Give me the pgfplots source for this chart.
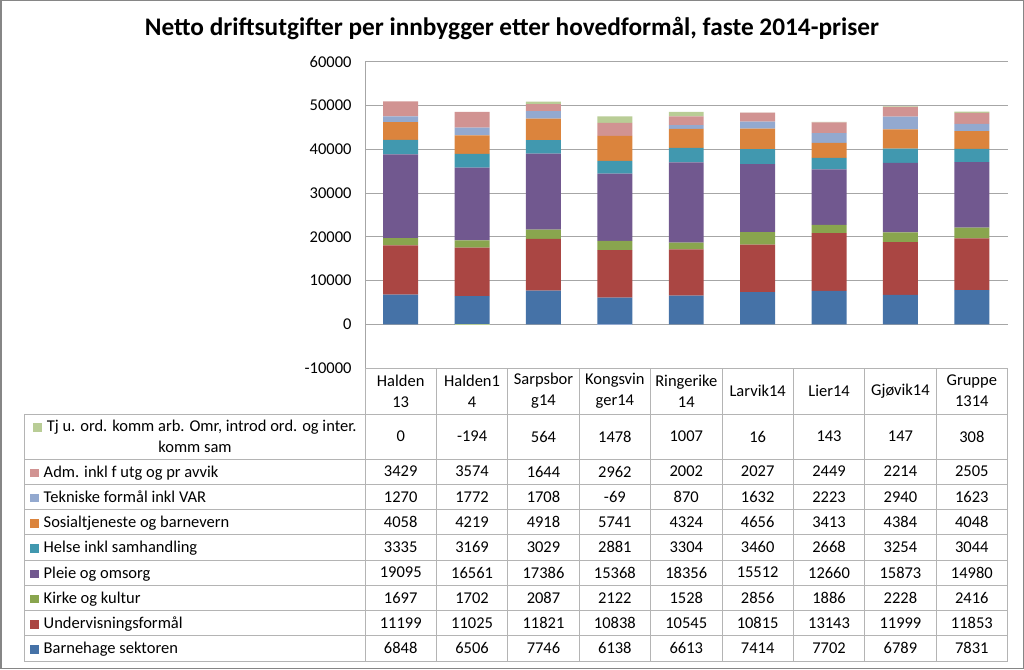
\documentclass[border=0pt]{standalone}
\usepackage{pgfplots}
\pgfplotsset{compat=1.18}
\usepackage{pgfplotstable}
\usepackage{fontspec}
\setmainfont{Carlito}

\definecolor{cBH}{HTML}{4572A7}
\definecolor{cUV}{HTML}{AA4643}
\definecolor{cKK}{HTML}{89A54E}
\definecolor{cPO}{HTML}{71588F}
\definecolor{cHE}{HTML}{4198AF}
\definecolor{cSO}{HTML}{DB843D}
\definecolor{cTE}{HTML}{93A9CF}
\definecolor{cAD}{HTML}{D19392}
\definecolor{cTJ}{HTML}{B9CD96}
\definecolor{gridc}{HTML}{A6A6A6}
\definecolor{tablec}{HTML}{B4B4B4}
\definecolor{framec}{HTML}{868686}

\newcommand{\keybox}[1]{\textcolor{#1}{\rule{8.5pt}{8.5pt}}}
\newcommand{\tabfont}{\fontsize{16.5}{21}\selectfont}

\pgfplotstableread{
x bh uv kk po he so te ad tj
0 6848 11199 1697 19095 3335 4058 1270 3429 0
1 6506 11025 1702 16561 3169 4219 1772 3574 -194
2 7746 11821 2087 17386 3029 4918 1708 1644 564
3 6138 10838 2122 15368 2881 5741 -69 2962 1478
4 6613 10545 1528 18356 3304 4324 870 2002 1007
5 7414 10815 2856 15512 3460 4656 1632 2027 16
6 7702 13143 1886 12660 2668 3413 2223 2449 143
7 6789 11999 2228 15873 3254 4384 2940 2214 147
8 7831 11853 2416 14980 3044 4048 1623 2505 308
}\data

\begin{document}
\begin{tikzpicture}[x=1pt,y=1pt]
\useasboundingbox (0,0) rectangle (1024,669);
\draw[framec, line width=1.5pt] (0.75,0.75) rectangle (1023.25,668.25);
\node[font=\fontsize{25.3}{30}\selectfont\bfseries, inner sep=0] at (512,{669-28}) {Netto driftsutgifter per innbygger etter hovedformål, faste 2014-priser};

\begin{axis}[
  at={(365pt,300.7pt)}, anchor=south west, scale only axis,
  width=642.5pt, height=306.6pt,
  xmin=-0.5, xmax=8.5, ymin=-10000, ymax=60000,
  ytick={-10000,0,10000,20000,30000,40000,50000,60000}, xtick=\empty,
  scaled y ticks=false,
  ymajorgrids, grid style={gridc, line width=0.8pt},
  axis lines*=left, axis line style={gridc, line width=0.8pt},
  major tick length=0pt,
  ybar stacked, bar width=0.49,
  yticklabel style={font=\fontsize{16.5}{19}\selectfont, xshift=-10pt},
  /pgf/number format/.cd, 1000 sep={}, assume math mode=true,
]
\addplot[fill=cBH, draw=none] table[x=x,y=bh]{\data};
\addplot[fill=cUV, draw=none] table[x=x,y=uv]{\data};
\addplot[fill=cKK, draw=none] table[x=x,y=kk]{\data};
\addplot[fill=cPO, draw=none] table[x=x,y=po]{\data};
\addplot[fill=cHE, draw=none] table[x=x,y=he]{\data};
\addplot[fill=cSO, draw=none] table[x=x,y=so]{\data};
\addplot[fill=cTE, draw=none] table[x=x,y expr={max(\thisrow{te},0)}]{\data};
\addplot[fill=cAD, draw=none] table[x=x,y=ad]{\data};
\addplot[fill=cTJ, draw=none] table[x=x,y expr={max(\thisrow{tj},0)}]{\data};
\end{axis}

\begin{axis}[
  at={(365pt,300.7pt)}, anchor=south west, scale only axis,
  width=642.5pt, height=306.6pt,
  xmin=-0.5, xmax=8.5, ymin=-10000, ymax=60000,
  hide axis, ybar stacked, bar width=0.49,
]
\addplot[fill=cTE, draw=none] table[x=x,y expr={min(\thisrow{te},0)}]{\data};
\addplot[fill=cTJ, draw=none] table[x=x,y expr={min(\thisrow{tj},0)}]{\data};
\end{axis}

% data table grid
\foreach \yy in {414,459,484.25,509.5,534.75,560,585.25,610.5,635.75,661}
  \draw[tablec, line width=0.8pt] (24,{669-\yy}) -- (1007.5,{669-\yy});
\draw[tablec, line width=0.8pt] (365,{669-368.3}) -- (1007.5,{669-368.3});
\draw[tablec, line width=0.8pt] (24,{669-414}) -- (24,{669-661});
\foreach \c in {0,...,9}
  \draw[tablec, line width=0.8pt] ({365+71.39*\c},{669-368.3}) -- ({365+71.39*\c},{669-661});

% category headers
\foreach \c/\nm in {0/{Halden\\13},1/{Halden1\\4},2/{Sarpsbor\\g14},3/{Kongsvin\\ger14},4/{Ringerike\\14},5/{Larvik14},6/{Lier14},7/{Gjøvik14},8/{Gruppe\\1314}}
  \node[font=\tabfont, align=center, inner sep=0] at ({365+71.39*(\c+0.5)},{669-391}) {\nm};

% values
\foreach \col/\yy in {tj/436.5,ad/471.6,te/496.9,so/522.1,he/547.4,po/572.6,kk/597.9,uv/623.1,bh/648.4}{
  \foreach \c in {0,...,8}{
    \pgfplotstablegetelem{\c}{\col}\of\data
    \node[font=\tabfont, inner sep=0] at ({365+71.39*(\c+0.5)},{669-\yy}) {\pgfplotsretval};
  }
}

% row labels
\node[font=\tabfont, align=center, inner sep=0] at (195,{669-436.5}) {\keybox{cTJ}\hspace{5pt}Tj u. ord. komm arb. Omr, introd ord. og inter.\\komm sam};
\foreach \yy/\cc/\lab in {471.6/cAD/{Adm. inkl f utg og pr avvik},496.9/cTE/{Tekniske formål inkl VAR},522.1/cSO/{Sosialtjeneste og barnevern},547.4/cHE/{Helse inkl samhandling},572.6/cPO/{Pleie og omsorg},597.9/cKK/{Kirke og kultur},623.1/cUV/{Undervisningsformål},648.4/cBH/{Barnehage sektoren}}
  \node[font=\tabfont, anchor=base west, inner sep=0] at (30,{669-\yy-5.5}) {\keybox{\cc}\hspace{5pt}\lab};
\end{tikzpicture}
\end{document}
